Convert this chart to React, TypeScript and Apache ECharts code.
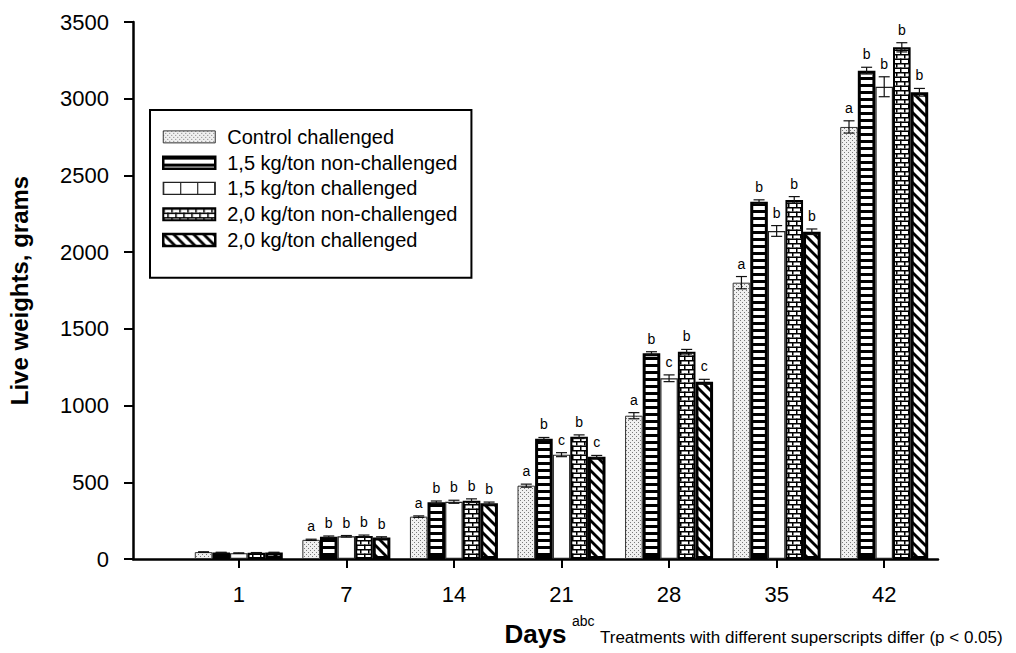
import React, { useEffect, useRef } from 'react';
import * as echarts from 'echarts';

const days = ['1', '7', '14', '21', '28', '35', '42'];

const seriesNames = [
  'Control challenged',
  '1,5 kg/ton non-challenged',
  '1,5 kg/ton challenged',
  '2,0 kg/ton non-challenged',
  '2,0 kg/ton challenged',
];

const controlChallenged = [45, 125, 276, 478, 934, 1801, 2816];
const nonChallenged15 = [42, 145, 370, 784, 1341, 2329, 3183];
const challenged15 = [38, 148, 373, 680, 1178, 2138, 3078];
const nonChallenged20 = [40, 150, 380, 797, 1351, 2340, 3335];
const challenged20 = [42, 140, 363, 667, 1156, 2133, 3042];

const errControl = [2, 4, 5, 10, 20, 40, 40];
const err15n = [2, 5, 8, 8, 10, 12, 22];
const err15c = [2, 5, 10, 13, 22, 35, 65];
const err20n = [2, 6, 12, 12, 15, 22, 30];
const err20c = [2, 5, 8, 8, 15, 18, 25];

const lettersControl = ['', 'a', 'a', 'a', 'a', 'a', 'a'];
const letters15n = ['', 'b', 'b', 'b', 'b', 'b', 'b'];
const letters15c = ['', 'b', 'b', 'c', 'c', 'b', 'b'];
const letters20n = ['', 'b', 'b', 'b', 'b', 'b', 'b'];
const letters20c = ['', 'b', 'b', 'c', 'c', 'b', 'b'];

const yMin = 0;
const yMax = 3500;
const yInterval = 500;

const footnoteSup = 'abc';
const footnoteText = 'Treatments with different superscripts differ (p < 0.05)';

const FONT = '"Liberation Sans", Arial, Helvetica, sans-serif';
const BAR_W = 17.6;

function makeTile(w: number, h: number, draw: (ctx: CanvasRenderingContext2D) => void, extra: any = {}) {
  const c = document.createElement('canvas');
  c.width = w;
  c.height = h;
  const ctx = c.getContext('2d')!;
  draw(ctx);
  return { image: c.toDataURL(), repeat: 'repeat', imageWidth: w, imageHeight: h, ...extra } as any;
}

function buildPatterns() {
  const dots = makeTile(4, 4, (ctx) => {
    ctx.fillStyle = '#f0f0f0';
    ctx.fillRect(0, 0, 4, 4);
    ctx.fillStyle = '#7a7a7a';
    ctx.fillRect(0, 0, 1, 1);
    ctx.fillRect(2, 2, 1, 1);
  });
  const hstripes = makeTile(4, 7, (ctx) => {
    ctx.fillStyle = '#ffffff';
    ctx.fillRect(0, 0, 4, 7);
    ctx.fillStyle = '#000000';
    ctx.fillRect(0, 0, 4, 3);
  });
  const white = '#ffffff';
  const brick = makeTile(8, 9, (ctx) => {
    ctx.fillStyle = '#ffffff';
    ctx.fillRect(0, 0, 8, 9);
    ctx.fillStyle = '#000000';
    ctx.fillRect(0, 0, 8, 1.5);
    ctx.fillRect(0, 4.5, 8, 1.5);
    ctx.fillRect(0, 0, 1.5, 4.5);
    ctx.fillRect(4, 4.5, 1.5, 4.5);
  });
  const hatch = makeTile(10, 10, (ctx) => {
    ctx.fillStyle = '#ffffff';
    ctx.fillRect(0, 0, 10, 10);
    ctx.strokeStyle = '#000000';
    ctx.lineWidth = 2.8;
    for (const k of [-10, 0, 10]) {
      ctx.beginPath();
      ctx.moveTo(k - 2, -2);
      ctx.lineTo(k + 12, 12);
      ctx.stroke();
    }
  });
  return [dots, hstripes, white, brick, hatch];
}

function buildLegendCells() {
  // white cells with vertical dividers, used only for the legend key of "1,5 kg/ton challenged"
  return makeTile(
    17,
    4,
    (ctx) => {
      ctx.fillStyle = '#ffffff';
      ctx.fillRect(0, 0, 17, 4);
      ctx.fillStyle = '#000000';
      ctx.fillRect(0, 0, 1, 4);
    },
    { x: 163 }
  );
}

export default function App() {
  const ref = useRef<HTMLDivElement>(null);

  useEffect(() => {
    if (!ref.current) return;
    const chart = echarts.init(ref.current, null, { renderer: 'svg' });
    const patterns = buildPatterns();
    const legendCells = buildLegendCells();
    const values = [controlChallenged, nonChallenged15, challenged15, nonChallenged20, challenged20];
    const errors = [errControl, err15n, err15c, err20n, err20c];
    const letters = [lettersControl, letters15n, letters15c, letters20n, letters20c];
    const borderWidths = [1, 3, 1.2, 2, 3];
    const borderColors = ['#333', '#000', '#222', '#000', '#000'];

    const barSeries = seriesNames.map((name, k) => ({
      name,
      type: 'bar',
      xAxisIndex: 1,
      yAxisIndex: 1,
      barWidth: BAR_W,
      barGap: '0%',
      data: values[k],
      itemStyle: {
        color: patterns[k],
        borderColor: borderColors[k],
        borderWidth: borderWidths[k],
      },
      emphasis: { disabled: true },
      z: 2,
    }));

    const errSeries = seriesNames.map((name, k) => ({
      name: name + ' error',
      type: 'custom',
      xAxisIndex: 1,
      yAxisIndex: 1,
      z: 5,
      silent: true,
      data: values[k].map((v, i) => [i, v, errors[k][i]]),
      renderItem: (params: any, api: any) => {
        const i = params.dataIndex;
        const v = values[k][i];
        const e = errors[k][i];
        const base = api.coord([i, v]);
        const x = base[0] + (k - 2) * BAR_W;
        const yHi = api.coord([i, v + e])[1];
        const yLo = api.coord([i, v - e])[1];
        const cap = 5.5;
        const ls = { stroke: '#111', lineWidth: 1.2 };
        return {
          type: 'group',
          children: [
            { type: 'line', shape: { x1: x, y1: yHi, x2: x, y2: yLo }, style: ls },
            { type: 'line', shape: { x1: x - cap, y1: yHi, x2: x + cap, y2: yHi }, style: ls },
            { type: 'line', shape: { x1: x - cap, y1: yLo, x2: x + cap, y2: yLo }, style: ls },
            {
              type: 'text',
              x,
              y: yHi - 6,
              style: {
                text: letters[k][i],
                fill: '#000',
                fontSize: 14,
                fontFamily: FONT,
                align: 'center',
                verticalAlign: 'bottom',
              },
            },
          ],
        };
      },
    }));

    const option: any = {
      animation: false,
      backgroundColor: '#ffffff',
      textStyle: { fontFamily: FONT, color: '#000' },
      grid: [
        { left: 133, right: 78, top: 22, bottom: 94, outerBoundsMode: 'none', containLabel: false },
        { left: 185, right: 78, top: 22, bottom: 94, outerBoundsMode: 'none', containLabel: false },
      ],
      xAxis: [
        {
          type: 'value',
          gridIndex: 0,
          min: 0,
          max: 1,
          axisLine: { show: true, onZero: false, lineStyle: { color: '#000', width: 2.5 } },
          axisTick: { show: false },
          axisLabel: { show: false },
          splitLine: { show: false },
          name: 'Days',
          nameLocation: 'middle',
          nameGap: 62,
          nameTextStyle: { fontSize: 26, fontWeight: 'bold', color: '#000', fontFamily: FONT },
        },
        {
          type: 'category',
          gridIndex: 1,
          data: days,
          axisLine: { show: false },
          axisTick: {
            show: true,
            alignWithLabel: true,
            interval: 0,
            length: 9,
            lineStyle: { color: '#000', width: 2 },
          },
          axisLabel: { fontSize: 22, color: '#000', margin: 24, fontFamily: FONT, interval: 0 },
          splitLine: { show: false },
        },
      ],
      yAxis: [
        {
          type: 'value',
          gridIndex: 0,
          min: yMin,
          max: yMax,
          interval: yInterval,
          axisLine: { show: true, lineStyle: { color: '#000', width: 2.5 } },
          axisTick: { show: true, length: 9, lineStyle: { color: '#000', width: 2 } },
          axisLabel: {
            fontSize: 22,
            color: '#000',
            margin: 24,
            fontFamily: FONT,
            formatter: (v: number) => String(v),
          },
          splitLine: { show: false },
          name: 'Live weights, grams',
          nameLocation: 'middle',
          nameGap: 102,
          nameTextStyle: { fontSize: 24, fontWeight: 'bold', color: '#000', fontFamily: FONT },
        },
        {
          type: 'value',
          gridIndex: 1,
          min: yMin,
          max: yMax,
          interval: yInterval,
          show: false,
        },
      ],
      legend: {
        show: true,
        orient: 'vertical',
        left: 150,
        top: 110,
        icon: 'rect',
        itemWidth: 52,
        itemHeight: 12,
        itemGap: 0,
        padding: [14, 14, 25, 12],
        borderColor: '#000',
        borderWidth: 2,
        backgroundColor: '#fff',
        selectedMode: false,
        textStyle: { fontSize: 20, color: '#000', fontFamily: FONT, lineHeight: 25.75, padding: [0, 0, 0, 7] },
        data: seriesNames.map((name, k) => ({
          name,
          itemStyle:
            k === 2
              ? { color: legendCells, borderColor: borderColors[k], borderWidth: 1.2 }
              : { borderColor: borderColors[k], borderWidth: Math.min(borderWidths[k], 2.5) },
        })),
      },
      graphic: [
        {
          type: 'text',
          x: 572,
          y: 621,
          style: { text: footnoteSup, fontSize: 14, fill: '#000', fontFamily: FONT, verticalAlign: 'middle' },
        },
        {
          type: 'text',
          x: 600,
          y: 637,
          style: {
            text: footnoteText,
            fontSize: 17,
            fill: '#000',
            fontFamily: FONT,
            verticalAlign: 'middle',
          },
        },
      ],
      series: [...barSeries, ...errSeries],
    };

    chart.setOption(option);
    return () => chart.dispose();
  }, []);

  return (
    <div
      ref={ref}
      style={{ position: 'absolute', left: 0, top: 0, width: 1016, height: 653, background: '#fff' }}
    />
  );
}
